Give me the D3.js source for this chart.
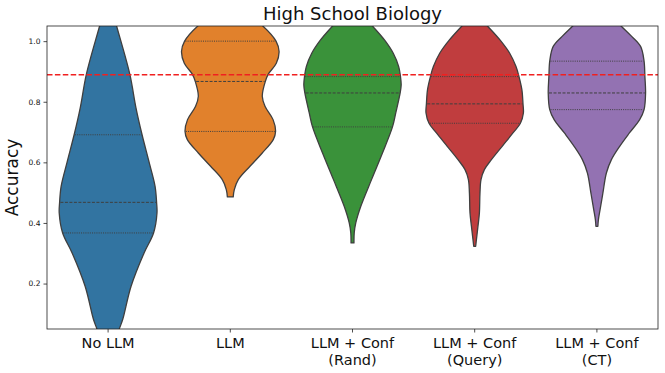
<!DOCTYPE html>
<html>
<head>
<meta charset="utf-8">
<script src="https://cdn.jsdelivr.net/npm/d3@7"></script>
<style>
  body { margin: 0; background: #fff; }
  text { font-family: "DejaVu Sans", sans-serif; }
</style>
</head>
<body>
<svg id="chart" width="665" height="373"></svg>
<script>
// ---------- data ----------
const categories = [["No LLM"], ["LLM"], ["LLM + Conf", "(Rand)"], ["LLM + Conf", "(Query)"], ["LLM + Conf", "(CT)"]];
const colors = ["#3274a1", "#e1812c", "#3a923a", "#c03d3e", "#9372b2"];
const yTicks = [0.2, 0.4, 0.6, 0.8, 1.0];
const reference = 0.889;

// density profiles: [accuracy, relative density]
const profileNoLLM = [[1.13,0.02],[1.10,0.09],[1.05,0.174],[0.891,0.444],[0.78,0.57],[0.691,0.695],[0.60,0.84],[0.521,0.961],[0.468,0.992],[0.433,1.0],[0.367,0.93],[0.301,0.736],[0.191,0.47],[0.082,0.30],[0.051,0.231],[0.0,0.12],[-0.05,0.03]];
const profileLLM = [[1.13,0.04],[1.11,0.16],[1.08,0.41],[1.05,0.665],[1.0,0.935],[0.966,0.998],[0.927,0.941],[0.891,0.777],[0.867,0.716],[0.818,0.654],[0.785,0.71],[0.741,0.875],[0.702,0.926],[0.675,0.879],[0.631,0.654],[0.587,0.403],[0.543,0.164],[0.51,0.082],[0.486,0.06]];
const profileRand = [[1.13,0.02],[1.11,0.08],[1.08,0.245],[1.05,0.409],[1.004,0.654],[0.96,0.834],[0.916,0.945],[0.883,0.982],[0.856,0.996],[0.829,0.975],[0.763,0.885],[0.717,0.818],[0.631,0.613],[0.543,0.389],[0.455,0.17],[0.40,0.067],[0.367,0.035],[0.334,0.03]];
const profileQuery = [[1.10,0.02],[1.08,0.094],[1.05,0.262],[1.004,0.517],[0.96,0.716],[0.916,0.845],[0.883,0.906],[0.84,0.965],[0.793,0.988],[0.763,0.996],[0.729,0.935],[0.697,0.783],[0.653,0.562],[0.609,0.342],[0.576,0.198],[0.543,0.129],[0.499,0.108],[0.433,0.096],[0.389,0.067],[0.345,0.035],[0.323,0.02]];
const profileCT = [[1.13,0.02],[1.11,0.12],[1.08,0.31],[1.05,0.495],[1.015,0.716],[0.982,0.896],[0.934,0.965],[0.883,0.982],[0.829,0.996],[0.774,0.965],[0.741,0.875],[0.697,0.665],[0.653,0.466],[0.609,0.297],[0.565,0.194],[0.499,0.123],[0.444,0.065],[0.411,0.031],[0.389,0.02]];
const profiles = [profileNoLLM, profileLLM, profileRand, profileQuery, profileCT];

// quartiles: [q1, median, q3]
const quartiles = [[0.367,0.468,0.691],[0.702,0.867,1.0],[0.717,0.829,0.883],[0.729,0.793,0.883],[0.774,0.829,0.934]];

// ---------- layout ----------
const W = 665, H = 373;
const m = { left: 47, right: 7, top: 26, bottom: 44 };
const iw = W - m.left - m.right, ih = H - m.top - m.bottom;

const svg = d3.select("#chart");
const g = svg.append("g").attr("transform", `translate(${m.left},${m.top})`);

const x = d3.scaleBand().domain(d3.range(categories.length)).range([0, iw]).padding(0);
const y = d3.scaleLinear().domain([0.05, 1.05]).range([ih, 0]);
const wScale = d3.scaleLinear().domain([0, 1]).range([0, x.bandwidth() * 0.4]);

svg.append("defs").append("clipPath").attr("id", "clip")
  .append("rect").attr("width", iw).attr("height", ih);

const plot = g.append("g").attr("clip-path", "url(#clip)");

profiles.forEach((prof, i) => {
  const cx = x(i) + x.bandwidth() / 2;
  const area = d3.area()
    .y(d => y(d[0]))
    .x0(d => cx - wScale(d[1]))
    .x1(d => cx + wScale(d[1]))
    .curve(d3.curveCatmullRom);
  plot.append("path").datum(prof)
    .attr("d", area)
    .attr("fill", colors[i])
    .attr("stroke", "#3f3f3f")
    .attr("stroke-width", 1.3)
    .attr("stroke-linejoin", "round");

  const sorted = prof.slice().sort((a, b) => a[0] - b[0]);
  const dens = d3.scaleLinear().domain(sorted.map(d => d[0])).range(sorted.map(d => d[1]));
  quartiles[i].forEach((q, k) => {
    const hw = wScale(dens(q)) - 0.8;
    plot.append("line")
      .attr("x1", cx - hw).attr("x2", cx + hw)
      .attr("y1", y(q)).attr("y2", y(q))
      .attr("stroke", "#3f3f3f")
      .attr("stroke-width", 1)
      .attr("stroke-dasharray", k === 1 ? "3,1.5" : "1,1.2");
  });
});

// reference line
plot.append("line")
  .attr("x1", 0).attr("x2", iw)
  .attr("y1", y(reference)).attr("y2", y(reference))
  .attr("stroke", "#f02020")
  .attr("stroke-width", 1.6)
  .attr("stroke-dasharray", "5.5,2.4");

// axes
const yAxis = g.append("g").call(d3.axisLeft(y).tickValues(yTicks).tickFormat(d3.format(".1f")).tickSize(3.5).tickPadding(3));
yAxis.select(".domain").remove();
yAxis.selectAll("text").attr("font-size", 7.5).attr("fill", "#111").attr("font-family", "DejaVu Sans");
yAxis.selectAll("line").attr("stroke", "#222").attr("stroke-width", 0.8);

const xAxis = g.append("g").attr("transform", `translate(0,${ih})`)
  .call(d3.axisBottom(x).tickSize(3.5).tickFormat(""));
xAxis.select(".domain").remove();
xAxis.selectAll("line").attr("stroke", "#222").attr("stroke-width", 0.8);

xAxis.selectAll(".tick").each(function(d) {
  const t = d3.select(this).append("text")
    .attr("text-anchor", "middle")
    .attr("font-size", 14.5)
    .attr("fill", "#111")
    .attr("font-family", "DejaVu Sans");
  categories[d].forEach((line, k) => {
    t.append("tspan").attr("x", 0).attr("y", 19 + k * 16.5).text(line);
  });
});

// frame
g.append("rect").attr("width", iw).attr("height", ih)
  .attr("fill", "none").attr("stroke", "#222").attr("stroke-width", 0.8);

// title & y label
svg.append("text")
  .attr("x", m.left + iw / 2).attr("y", 20)
  .attr("text-anchor", "middle")
  .attr("font-size", 18)
  .attr("fill", "#111")
  .text("High School Biology");

svg.append("text")
  .attr("transform", `translate(18,${m.top + ih / 2}) rotate(-90)`)
  .attr("text-anchor", "middle")
  .attr("font-size", 17)
  .attr("fill", "#111")
  .text("Accuracy");
</script>
</body>
</html>
